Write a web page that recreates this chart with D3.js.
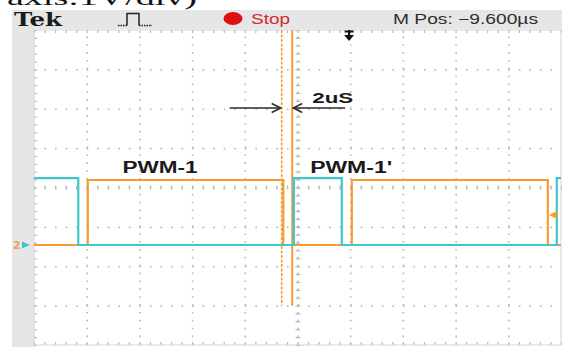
<!DOCTYPE html>
<html>
<head>
<meta charset="utf-8">
<script src="https://cdn.jsdelivr.net/npm/d3@7"></script>
<style>
  html, body { margin: 0; padding: 0; background: #fff; }
  svg { display: block; }
</style>
</head>
<body>
<svg id="scope" width="562" height="347"></svg>
<script>
// ---- scope settings ----
const timeDomain = [0, 100];        // µs across the screen (10 µs/div)
const timeDivs = 10;
const vertDivs = 8;
const voltsPerDiv = 1;
const groundDiv = -1.46;            // ground reference, divisions from centre
const mPos = -9.6;                  // µs, horizontal position readout

// ---- channel 1 (cyan): transition times (µs), start level, levels (V) ----
const ch1Edges = [8.4, 49.3, 58.4, 99.2];
const ch1Start = 1;
const ch1Levels = [0, 1.70];

// ---- channel 2 (orange) ----
const ch2Edges = [10.2, 47.3, 60.3, 97.5];
const ch2Start = 0;
const ch2Levels = [0, 1.65];
const ch2TrigLevel = 0.76;          // V

// ---- cursors and labels ----
const cursorTimes = [47.0, 49.0];
const cursorLabel = "2uS";
const traceLabels = [
  { text: "PWM-1",  t: 16.8 },
  { text: "PWM-1'", t: 52.4 }
];

// ---- layout ----
const plot = { left: 34, right: 561, top: 30, bottom: 345 };
const colors = { cyan: "#3ec6cb", orange: "#f79a30", grid: "#b9b9b9", panel: "#e6e6e6" };

const svg = d3.select("#scope");

const x = d3.scaleLinear().domain(timeDomain).range([plot.left, plot.right]);
const yDiv = d3.scaleLinear().domain([-vertDivs / 2, vertDivs / 2]).range([plot.bottom, plot.top]);
const yVolt = v => yDiv(v / voltsPerDiv + groundDiv);

const tDiv = (timeDomain[1] - timeDomain[0]) / timeDivs;
const majorT = d3.range(0, timeDivs + 1).map(i => timeDomain[0] + i * tDiv);
const minorT = d3.range(0, timeDivs * 5 + 1).map(i => timeDomain[0] + i * tDiv / 5);
const majorV = d3.range(-vertDivs / 2, vertDivs / 2 + 1);
const minorV = d3.range(0, vertDivs * 5 + 1).map(i => -vertDivs / 2 + i / 5);

const pxT = x(tDiv / 5) - x(0);               // minor spacing horizontally
const pxV = yDiv(0) - yDiv(0.2);              // minor spacing vertically

// caption fragment above the screen
svg.append("text").attr("x", 7).attr("y", 5)
  .attr("font-family", "Liberation Serif, Times New Roman, serif").attr("font-size", 22)
  .attr("textLength", 190).attr("lengthAdjust", "spacingAndGlyphs")
  .attr("fill", "#111").text("axis:1V/div)");

// ---- instrument panels ----
svg.append("rect").attr("x", 12).attr("y", 10).attr("width", 550).attr("height", 19).attr("fill", colors.panel);
svg.append("rect").attr("x", 12).attr("y", 29).attr("width", 22).attr("height", 318).attr("fill", colors.panel);

// ---- graticule ----
const grid = svg.append("g").attr("class", "grid");

// vertical dotted lines at every division
grid.append("g")
  .attr("transform", `translate(0,${plot.bottom})`)
  .call(d3.axisBottom(x).tickValues(majorT.slice(1, -1)).tickSize(-(plot.bottom - plot.top)).tickFormat(""))
  .call(g => g.select(".domain").remove())
  .call(g => g.selectAll("line").attr("stroke", colors.grid).attr("stroke-width", 1.6)
    .attr("stroke-dasharray", `1.6 ${pxV - 1.6}`));

// horizontal dotted lines at every division
grid.append("g")
  .attr("transform", `translate(${plot.left},0)`)
  .call(d3.axisLeft(yDiv).tickValues(majorV.slice(1, -1)).tickSize(-(plot.right - plot.left)).tickFormat(""))
  .call(g => g.select(".domain").remove())
  .call(g => g.selectAll("line").attr("stroke", colors.grid).attr("stroke-width", 1.6)
    .attr("stroke-dasharray", `1.6 ${pxT - 1.6}`));

// minor ticks along the centre cross and the screen border
const tickStyle = g => g.call(s => s.select(".domain").remove())
  .selectAll("line").attr("stroke", colors.grid).attr("stroke-width", 1.2);

grid.append("g").attr("transform", `translate(0,${yDiv(0) + 2})`)
  .call(d3.axisTop(x).tickValues(minorT).tickSize(4).tickFormat("")).call(tickStyle);
grid.append("g").attr("transform", `translate(${x(50) - 2},0)`)
  .call(d3.axisRight(yDiv).tickValues(minorV).tickSize(5).tickFormat("")).call(tickStyle);
grid.append("g").attr("transform", `translate(0,${plot.bottom})`)
  .call(d3.axisTop(x).tickValues(minorT).tickSize(3).tickFormat("")).call(tickStyle);
grid.append("g").attr("transform", `translate(0,${plot.top})`)
  .call(d3.axisBottom(x).tickValues(minorT).tickSize(3).tickFormat("")).call(tickStyle);
grid.append("g").attr("transform", `translate(${plot.left},0)`)
  .call(d3.axisRight(yDiv).tickValues(minorV).tickSize(3).tickFormat("")).call(tickStyle);

grid.append("rect")
  .attr("x", plot.left).attr("y", plot.top)
  .attr("width", plot.right - plot.left).attr("height", plot.bottom - plot.top)
  .attr("fill", "none").attr("stroke", "#d4d4d4").attr("stroke-width", 1);

// ---- cursors ----
svg.append("line")
  .attr("x1", x(cursorTimes[0])).attr("x2", x(cursorTimes[0]))
  .attr("y1", plot.top).attr("y2", yDiv(-3))
  .attr("stroke", colors.orange).attr("stroke-width", 1.6).attr("stroke-dasharray", "3 1.5");
svg.append("line")
  .attr("x1", x(cursorTimes[1])).attr("x2", x(cursorTimes[1]))
  .attr("y1", plot.top).attr("y2", yDiv(-3))
  .attr("stroke", colors.orange).attr("stroke-width", 2);

// ---- traces ----
function stepPoints(edges, start, levels) {
  const pts = [];
  let state = start;
  pts.push([timeDomain[0], levels[state]]);
  edges.forEach(t => {
    pts.push([t, levels[state]]);
    state = 1 - state;
    pts.push([t, levels[state]]);
  });
  pts.push([timeDomain[1], levels[state]]);
  return pts;
}
const line = d3.line().x(d => x(d[0])).y(d => yVolt(d[1]));

svg.append("path").datum(stepPoints(ch2Edges, ch2Start, ch2Levels))
  .attr("d", line).attr("fill", "none").attr("stroke", colors.orange)
  .attr("stroke-width", 2.2).attr("stroke-linejoin", "miter");
svg.append("path").datum(stepPoints(ch1Edges, ch1Start, ch1Levels))
  .attr("d", line).attr("fill", "none").attr("stroke", colors.cyan)
  .attr("stroke-width", 2.2).attr("stroke-linejoin", "miter");

// ---- screen markers ----
// ground marker on the left
const gy = yVolt(0);
svg.append("text").attr("x", 13).attr("y", gy + 4)
  .attr("font-family", "DejaVu Sans, sans-serif").attr("font-size", 11).attr("font-weight", "bold")
  .attr("fill", "#e9a24a").text("2");
svg.append("path")
  .attr("d", `M22,${gy - 3.5} L30,${gy} L22,${gy + 3.5} Z`)
  .attr("fill", colors.cyan);

// trigger level marker on the right
const ty = yVolt(ch2TrigLevel);
svg.append("path")
  .attr("d", `M549,${ty} L557,${ty - 4} L557,${ty + 4} Z`)
  .attr("fill", colors.orange);

// trigger position marker at the top
const tx = x((timeDomain[0] + timeDomain[1]) / 2 - mPos) + 1;
svg.append("path")
  .attr("d", `M${tx - 4.5},${plot.top + 1.5} H${tx + 4.5} M${tx},${plot.top} V${plot.top + 6}`)
  .attr("stroke", "#111").attr("stroke-width", 2.2);
svg.append("path")
  .attr("d", `M${tx - 5},${plot.top + 5} L${tx + 5},${plot.top + 5} L${tx},${plot.top + 11} Z`)
  .attr("fill", "#111");

// ---- status bar ----
svg.append("text").attr("x", 14).attr("y", 26)
  .attr("font-family", "DejaVu Serif, serif").attr("font-size", 18).attr("font-weight", "bold")
  .attr("textLength", 48).attr("lengthAdjust", "spacingAndGlyphs")
  .attr("fill", "#1a1a1a").text("Tek");

svg.append("path").attr("d", "M118,25.5 H127").attr("stroke", "#222").attr("stroke-width", 1.3).attr("stroke-dasharray", "1.5 1");
svg.append("path").attr("d", "M127,25.5 V13.5 H139 V25.5").attr("fill", "none").attr("stroke", "#222").attr("stroke-width", 1.5);
svg.append("path").attr("d", "M139,25.5 H152").attr("stroke", "#222").attr("stroke-width", 1.3).attr("stroke-dasharray", "1.5 1");

svg.append("ellipse").attr("cx", 233).attr("cy", 18.5).attr("rx", 9.5).attr("ry", 6.5).attr("fill", "#dd1111");
svg.append("text").attr("x", 251).attr("y", 24)
  .attr("font-family", "Liberation Sans, Arial, sans-serif").attr("font-size", 14)
  .attr("textLength", 39).attr("lengthAdjust", "spacingAndGlyphs")
  .attr("fill", "#d42a2a").text("Stop");

svg.append("text").attr("x", 393).attr("y", 24)
  .attr("font-family", "Liberation Sans, Arial, sans-serif").attr("font-size", 14)
  .attr("textLength", 145).attr("lengthAdjust", "spacingAndGlyphs")
  .attr("fill", "#2e2e2e").text(`M Pos: \u2212${Math.abs(mPos).toFixed(3)}\u00b5s`);

// ---- annotations ----
const labelY = 173;
svg.selectAll("text.trace-label").data(traceLabels).join("text")
  .attr("class", "trace-label")
  .attr("x", d => x(d.t)).attr("y", labelY)
  .attr("font-family", "Liberation Sans, Arial, sans-serif").attr("font-size", 16).attr("font-weight", "bold")
  .attr("textLength", d => d.text.length > 5 ? 82 : 75).attr("lengthAdjust", "spacingAndGlyphs")
  .attr("fill", "#1a1a1a").text(d => d.text);

svg.append("text").attr("x", x(cursorTimes[1]) + 20).attr("y", 103)
  .attr("font-family", "Liberation Sans, Arial, sans-serif").attr("font-size", 15).attr("font-weight", "bold")
  .attr("textLength", 41).attr("lengthAdjust", "spacingAndGlyphs")
  .attr("fill", "#1a1a1a").text(cursorLabel);

// dimension arrows pointing at the two cursors
const ay = 108;
const ax0 = x(cursorTimes[0]) - 1;
const ax1 = x(cursorTimes[1]) + 1;
const arrow = svg.append("g").attr("stroke", "#2b2b2b").attr("stroke-width", 1.5).attr("fill", "none");
arrow.append("path").attr("d", `M${ax0 - 51},${ay} H${ax0}`);
arrow.append("path").attr("d", `M${ax0 - 9},${ay - 4.5} L${ax0},${ay} L${ax0 - 9},${ay + 4.5}`);
arrow.append("path").attr("d", `M${ax1 + 52},${ay} H${ax1}`);
arrow.append("path").attr("d", `M${ax1 + 9},${ay - 4.5} L${ax1},${ay} L${ax1 + 9},${ay + 4.5}`);
</script>
</body>
</html>
